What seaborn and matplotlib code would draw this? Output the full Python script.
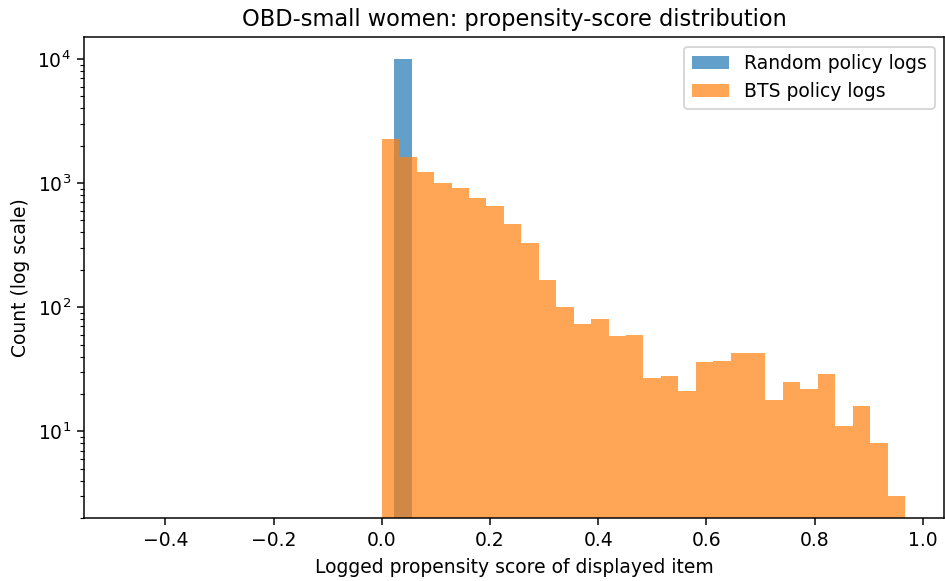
import numpy as np
import pandas as pd
import matplotlib
matplotlib.use("Agg")
import matplotlib.pyplot as plt
import seaborn as sns

# Random policy: every logged propensity equals 1/46
random_value = [0.0217]
random_count = [10000]
random_bins = 30

# BTS policy: 30 equal-width bins between min and max propensity
bts_min = 0.0
bts_max = 0.967
bts_counts = [2265, 1611, 1219, 1000, 916, 762, 649, 467, 332, 165,
              100, 73, 81, 59, 60, 27, 28, 21, 36, 37,
              43, 43, 18, 25, 22, 29, 11, 16, 8, 3]

title = "OBD-small women: propensity-score distribution"
xlabel = "Logged propensity score of displayed item"
ylabel = "Count (log scale)"
labels = ["Random policy logs", "BTS policy logs"]

nb = len(bts_counts)
bts_edges = np.linspace(bts_min, bts_max, nb + 1)
bts_df = pd.DataFrame({"score": (bts_edges[:-1] + bts_edges[1:]) / 2,
                       "count": bts_counts})
rnd_df = pd.DataFrame({"score": random_value, "count": random_count})

DPI = 135
fig, ax = plt.subplots(figsize=(945 / DPI, 581 / DPI), dpi=DPI)
fig.subplots_adjust(left=0.0889, right=0.999, bottom=0.1084, top=0.936)

sns.histplot(data=rnd_df, x="score", weights="count", bins=random_bins,
             color="C0", alpha=0.7, linewidth=0, label=labels[0], ax=ax)
sns.histplot(data=bts_df, x="score", weights="count", bins=nb,
             binrange=(bts_min, bts_max),
             color="C1", alpha=0.7, linewidth=0, label=labels[1], ax=ax)
ax.set_yscale("log")
ax.relim()
ax.autoscale(axis="y")

ax.set_title(title, fontsize=12)
ax.set_xlabel(xlabel)
ax.set_ylabel(ylabel)
ax.legend(loc="upper right")

fig.savefig("out.png", dpi=DPI)
